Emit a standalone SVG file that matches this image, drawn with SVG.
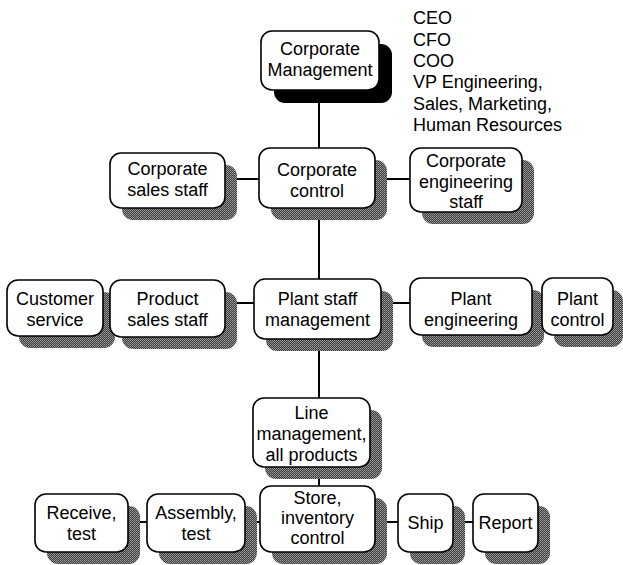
<svg xmlns="http://www.w3.org/2000/svg" width="623" height="565" viewBox="0 0 623 565">
  <defs>
    <!-- stippled halftone fill used for the drop shadows -->
    <pattern id="stipple" width="2" height="2" patternUnits="userSpaceOnUse">
      <rect width="2" height="2" fill="#3c3c3c"/>
      <rect x="0" y="0" width="1" height="1" fill="#a0a0a0"/>
      <rect x="1" y="1" width="1" height="1" fill="#8a8a8a"/>
    </pattern>
  </defs>
  <style>
    .box { fill: #ffffff; stroke: #000000; stroke-width: 1.6; }
    .shadow { fill: url(#stipple); }
    .solid-shadow { fill: #000000; }
    .wire { stroke: #000000; stroke-width: 2; fill: none; }
    text { font-family: "Liberation Sans", Arial, Helvetica, sans-serif; font-size: 18px; fill: #000000; }
    .c { text-anchor: middle; }
  </style>

  <rect width="623" height="565" fill="#ffffff"/>

  <!-- connectors -->
  <g id="connectors">
    <line class="wire" x1="319" y1="60" x2="319" y2="520"/>
    <line class="wire" x1="167" y1="179" x2="466" y2="179"/>
    <line class="wire" x1="55" y1="303" x2="577" y2="303"/>
    <line class="wire" x1="81" y1="522" x2="505" y2="522"/>
  </g>

  <!-- executive roles note -->
  <g id="roles">
    <text x="413" y="24">CEO</text>
    <text x="413" y="45.5">CFO</text>
    <text x="413" y="67">COO</text>
    <text x="413" y="88">VP Engineering,</text>
    <text x="413" y="109.5">Sales, Marketing,</text>
    <text x="413" y="131">Human Resources</text>
  </g>

  <g id="corporate-management">
    <rect class="solid-shadow" x="274" y="44" width="118" height="59" rx="11"/>
    <rect class="box" x="261" y="31" width="118" height="59" rx="11"/>
    <text class="c" x="320" y="55">Corporate</text>
    <text class="c" x="320" y="76">Management</text>
  </g>

  <g id="corporate-sales-staff">
    <rect class="shadow" x="122" y="165" width="115" height="55" rx="11"/>
    <rect class="box" x="110" y="153" width="115" height="55" rx="11"/>
    <text class="c" x="167.5" y="175">Corporate</text>
    <text class="c" x="167.5" y="196">sales staff</text>
  </g>

  <g id="corporate-control">
    <rect class="shadow" x="271" y="160" width="116" height="60" rx="11"/>
    <rect class="box" x="259" y="148" width="116" height="60" rx="11"/>
    <text class="c" x="317" y="176">Corporate</text>
    <text class="c" x="317" y="197">control</text>
  </g>

  <g id="corporate-engineering-staff">
    <rect class="shadow" x="422" y="160" width="112" height="64" rx="11"/>
    <rect class="box" x="410" y="148" width="112" height="64" rx="11"/>
    <text class="c" x="466" y="167">Corporate</text>
    <text class="c" x="466" y="188">engineering</text>
    <text class="c" x="466" y="208">staff</text>
  </g>

  <g id="customer-service">
    <rect class="shadow" x="19" y="292" width="96" height="56" rx="11"/>
    <rect class="box" x="7" y="280" width="96" height="56" rx="11"/>
    <text class="c" x="55" y="305">Customer</text>
    <text class="c" x="55" y="326">service</text>
  </g>

  <g id="product-sales-staff">
    <rect class="shadow" x="122" y="292" width="115" height="57" rx="11"/>
    <rect class="box" x="110" y="280" width="115" height="57" rx="11"/>
    <text class="c" x="167.5" y="305">Product</text>
    <text class="c" x="167.5" y="326">sales staff</text>
  </g>

  <g id="plant-staff-management">
    <rect class="shadow" x="266" y="291" width="127" height="60" rx="11"/>
    <rect class="box" x="254" y="279" width="127" height="60" rx="11"/>
    <text class="c" x="317.5" y="305">Plant staff</text>
    <text class="c" x="317.5" y="326">management</text>
  </g>

  <g id="plant-engineering">
    <rect class="shadow" x="422" y="290" width="122" height="57" rx="11"/>
    <rect class="box" x="410" y="278" width="122" height="57" rx="11"/>
    <text class="c" x="471" y="305">Plant</text>
    <text class="c" x="471" y="326">engineering</text>
  </g>

  <g id="plant-control">
    <rect class="shadow" x="554" y="290" width="69" height="57" rx="11"/>
    <rect class="box" x="542" y="278" width="71" height="57" rx="11"/>
    <text class="c" x="577.5" y="305">Plant</text>
    <text class="c" x="577.5" y="326">control</text>
  </g>

  <g id="line-management">
    <rect class="shadow" x="265" y="410" width="117" height="69" rx="11"/>
    <rect class="box" x="253" y="398" width="117" height="69" rx="11"/>
    <text class="c" x="311.5" y="419">Line</text>
    <text class="c" x="311.5" y="440">management,</text>
    <text class="c" x="311.5" y="461">all products</text>
  </g>

  <g id="receive-test">
    <rect class="shadow" x="47" y="506" width="93" height="58" rx="11"/>
    <rect class="box" x="35" y="494" width="93" height="58" rx="11"/>
    <text class="c" x="81.5" y="519">Receive,</text>
    <text class="c" x="81.5" y="540">test</text>
  </g>

  <g id="assembly-test">
    <rect class="shadow" x="159" y="506" width="98" height="58" rx="11"/>
    <rect class="box" x="147" y="494" width="98" height="58" rx="11"/>
    <text class="c" x="196" y="519">Assembly,</text>
    <text class="c" x="196" y="540">test</text>
  </g>

  <g id="store-inventory-control">
    <rect class="shadow" x="272" y="498" width="115" height="66" rx="11"/>
    <rect class="box" x="260" y="486" width="115" height="66" rx="11"/>
    <text class="c" x="317.5" y="504">Store,</text>
    <text class="c" x="317.5" y="524">inventory</text>
    <text class="c" x="317.5" y="544">control</text>
  </g>

  <g id="ship">
    <rect class="shadow" x="410" y="506" width="55" height="58" rx="11"/>
    <rect class="box" x="398" y="494" width="55" height="58" rx="11"/>
    <text class="c" x="425.5" y="529">Ship</text>
  </g>

  <g id="report">
    <rect class="shadow" x="485" y="506" width="65" height="58" rx="11"/>
    <rect class="box" x="473" y="494" width="65" height="58" rx="11"/>
    <text class="c" x="505.5" y="529">Report</text>
  </g>
</svg>
